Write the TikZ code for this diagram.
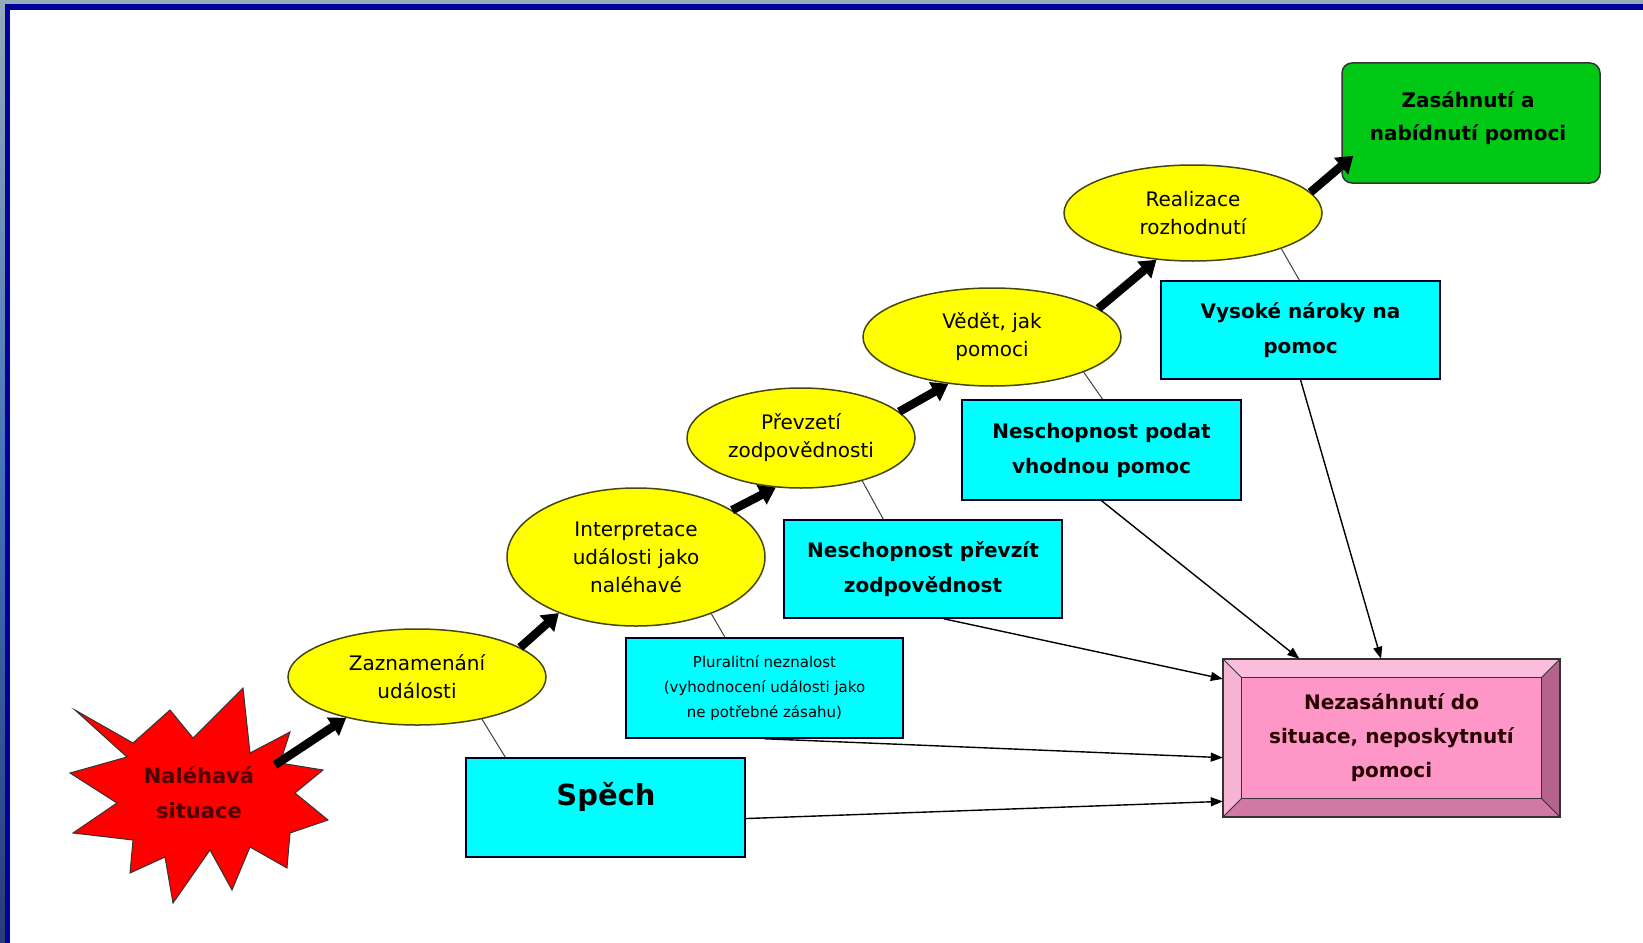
\documentclass[tikz,border=0pt]{standalone}
\usepackage{fontspec}
\setmainfont{DejaVu Sans}
\usetikzlibrary{arrows.meta,shapes.geometric,calc}
\definecolor{cyanbox}{RGB}{0,255,255}
\definecolor{ellfill}{RGB}{255,255,0}
\definecolor{ellline}{RGB}{70,70,20}
\definecolor{greenbox}{RGB}{0,200,20}
\definecolor{navyframe}{RGB}{0,0,155}
\definecolor{bgtop}{RGB}{150,170,185}
\definecolor{bgmid}{RGB}{70,115,185}
\definecolor{bgbot}{RGB}{40,60,120}
\definecolor{pinkmid}{RGB}{255,150,200}
\definecolor{pinktop}{RGB}{250,190,220}
\definecolor{pinkleft}{RGB}{245,180,212}
\definecolor{pinkbot}{RGB}{210,120,165}
\definecolor{pinkright}{RGB}{180,100,140}
\definecolor{burstred}{RGB}{255,0,0}
\begin{document}
\begin{tikzpicture}[x=1pt,y=-1pt,
  ell/.style={ellipse, draw=ellline, line width=1.5pt, fill=ellfill, inner sep=0pt,
    align=center, font=\fontsize{20}{28}\selectfont},
  cbox/.style={rectangle, draw=black!85!blue, line width=1.5pt, fill=cyanbox, inner sep=0pt,
    align=center, font=\bfseries\fontsize{20}{35}\selectfont},
  bigarrow/.style={-{Triangle[length=16pt,width=21pt]}, line width=8.5pt, black},
  thinarrow/.style={-{Triangle[length=12pt,width=9pt]}, line width=1.4pt, black},
  linkline/.style={line width=1pt, black!75}]
\useasboundingbox (0,0) rectangle (1643,942);
% background and frame
\shade[top color=bgtop, bottom color=bgbot, middle color=bgmid] (0,0) rectangle (1643,942);
\fill[navyframe] (4.5,4.5) rectangle (1660,960);
\fill[white] (10,10) rectangle (1660,960);

% starburst
\draw[fill=burstred, draw=black!80, line width=1pt]
  (75,710) -- (133,743) -- (170,710) -- (193,738) -- (243,688) -- (250,753) --
  (290,732) -- (280,763) -- (323,770) -- (295,793) -- (328,820) -- (290,833) --
  (287,868) -- (250,847) -- (232,890) -- (210,850) -- (173,903) -- (165,857) --
  (130,873) -- (133,840) -- (73,833) -- (117,803) -- (70,773) -- (127,757) -- cycle;
\node[align=center, text=black!70!red, font=\bfseries\fontsize{21}{35}\selectfont] (burst) at (199,793) {Naléhavá\\situace};
\coordinate (burstout) at (275,765);

% ellipses
\node[ell, minimum width=258pt, minimum height=96pt] (e1) at (417,677) {Zaznamenání\\události};
\node[ell, minimum width=258pt, minimum height=138pt] (e2) at (636,557) {Interpretace\\události jako\\naléhavé};
\node[ell, minimum width=228pt, minimum height=100pt] (e3) at (801,438) {Převzetí\\zodpovědnosti};
\node[ell, minimum width=258pt, minimum height=98pt] (e4) at (992,337) {Vědět, jak\\pomoci};
\node[ell, minimum width=258pt, minimum height=96pt] (e5) at (1193,213) {Realizace\\rozhodnutí};

% green box
\node[rectangle, rounded corners=10pt, draw=black!80, line width=1.5pt, fill=greenbox,
  minimum width=258pt, minimum height=120pt] (green) at (1471,123) {};
\node[align=center, font=\bfseries\fontsize{20}{33}\selectfont] (greentext) at (1468,118) {Zasáhnutí a\\nabídnutí pomoci};

% cyan boxes
\node[cbox, minimum width=279pt, minimum height=99pt] (spech) at (605.5,807.5) {};
\node[font=\bfseries\fontsize{29}{35}\selectfont] (spechtext) at (606,797) {Spěch};
\node[cbox, minimum width=277pt, minimum height=100pt, font=\fontsize{15}{25}\selectfont] (plural) at (764.5,688) {Pluralitní neznalost\\(vyhodnocení události jako\\ne potřebné zásahu)};
\node[cbox, minimum width=278pt, minimum height=98pt] (prevzit) at (923,569) {Neschopnost převzít\\zodpovědnost};
\node[cbox, minimum width=279pt, minimum height=100pt] (podat) at (1101.5,450) {Neschopnost podat\\vhodnou pomoc};
\node[cbox, minimum width=279pt, minimum height=98pt] (vysoke) at (1300.5,330) {Vysoké nároky na\\pomoc};

% pink bevel box
\node[rectangle, fill=pinkmid, inner sep=0pt, minimum width=337pt, minimum height=158pt,
  align=center, font=\bfseries\fontsize{20}{34}\selectfont, text=black!85!red] (pink) at (1391.5,738) {Nezasáhnutí do\\situace, neposkytnutí\\pomoci};
\coordinate (pa) at ($(pink.north west)+(19,19)$);
\coordinate (pb) at ($(pink.north east)+(-19,19)$);
\coordinate (pc) at ($(pink.south east)+(-19,-19)$);
\coordinate (pd) at ($(pink.south west)+(19,-19)$);
\fill[pinktop] (pink.north west) -- (pink.north east) -- (pb) -- (pa) -- cycle;
\fill[pinkleft] (pink.north west) -- (pa) -- (pd) -- (pink.south west) -- cycle;
\fill[pinkbot] (pink.south west) -- (pd) -- (pc) -- (pink.south east) -- cycle;
\fill[pinkright] (pink.north east) -- (pink.south east) -- (pc) -- (pb) -- cycle;
\draw[line width=1.5pt, black!80] (pink.north west) rectangle (pink.south east);
\draw[line width=1.2pt, black!80] (pa) rectangle (pc);
\draw[line width=1pt, black!80] (pink.north west) -- (pa) (pink.north east) -- (pb)
  (pink.south east) -- (pc) (pink.south west) -- (pd);

% thick arrows along the chain
\draw[bigarrow] (burstout) -- (e1.210);
\draw[bigarrow] (e1.16) -- (e2.216);
\draw[bigarrow] (e2.26.6) -- (e3.243);
\draw[bigarrow] (e3.15) -- (e4.227.6);
\draw[bigarrow] (e4.15.6) -- (e5.232.8);
\coordinate (greenin) at ($(green.south west)!0.23!(green.north west)+(12,0)$);
\draw[bigarrow] (e5.10.9) -- (greenin);

% links ellipse -> obstacle
\draw[linkline] (e1.-33) -- ($(spech.north west)!0.143!(spech.north east)$);
\draw[linkline] (e2.-37.5) -- ($(plural.north west)!0.358!(plural.north east)$);
\draw[linkline] (e3.-35) -- ($(prevzit.north west)!0.358!(prevzit.north east)$);
\draw[linkline] (e4.-21) -- ($(podat.north west)!0.504!(podat.north east)$);
\draw[linkline] (e5.-22) -- ($(vysoke.north west)!0.496!(vysoke.north east)$);

% arrows into the pink box
\draw[thinarrow] ($(spech.north east)!0.61!(spech.south east)$) -- ($(pink.north west)!0.9!(pink.south west)$);
\draw[thinarrow] ($(plural.south west)!0.5!(plural.south east)$) -- ($(pink.north west)!0.624!(pink.south west)$);
\draw[thinarrow] ($(prevzit.south west)!0.574!(prevzit.south east)$) -- ($(pink.north west)!0.127!(pink.south west)$);
\draw[thinarrow] (podat.south) -- ($(pink.north west)!0.227!(pink.north east)$);
\draw[thinarrow] (vysoke.south) -- ($(pink.north west)!0.469!(pink.north east)$);
\end{tikzpicture}
\end{document}
